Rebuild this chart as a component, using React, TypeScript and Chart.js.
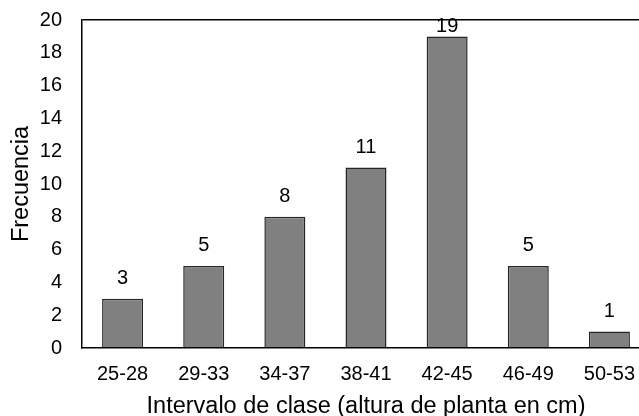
import React, { useEffect, useRef } from "react";
import { Chart, registerables } from "chart.js";

Chart.register(...registerables);

const categories = ["25-28", "29-33", "34-37", "38-41", "42-45", "46-49", "50-53"];
const frequencies = [3, 5, 8, 11, 19, 5, 1];
const yTitle = "Frecuencia";
const xTitle = "Intervalo de clase (altura de planta en cm)";

const FONT = "'Liberation Sans', Arial, sans-serif";

const valueLabels = {
  id: "valueLabels",
  afterDatasetsDraw(chart: any) {
    const ctx = chart.ctx;
    const meta = chart.getDatasetMeta(0);
    const top = chart.chartArea.top;
    ctx.save();
    ctx.font = `20px ${FONT}`;
    ctx.fillStyle = "#000";
    ctx.textAlign = "center";
    ctx.textBaseline = "alphabetic";
    meta.data.forEach((bar: any, i: number) => {
      const v = chart.data.datasets[0].data[i];
      const y = Math.max(bar.y - 15, top + 12);
      ctx.fillText(String(v), bar.x, y);
    });
    ctx.restore();
  },
};

export default function App() {
  const ref = useRef<HTMLCanvasElement>(null);
  useEffect(() => {
    if (!ref.current) return;
    const chart = new Chart(ref.current, {
      type: "bar",
      data: {
        labels: categories,
        datasets: [
          {
            data: frequencies,
            backgroundColor: "#808080",
            borderColor: "#262626",
            borderWidth: 1.5,
            barPercentage: 0.505,
            categoryPercentage: 1,
          },
        ],
      },
      options: {
        responsive: false,
        animation: false,
        layout: { padding: { top: 20, right: 10, left: 0, bottom: 0 } },
        plugins: { legend: { display: false }, tooltip: { enabled: false } },
        scales: {
          x: {
            grid: { display: false, drawTicks: false },
            border: { display: true, color: "#000", width: 1.5 },
            ticks: { font: { family: FONT, size: 20 }, color: "#000", padding: 14, maxRotation: 0 },
            title: {
              display: true,
              text: xTitle,
              font: { family: FONT, size: 23.5 },
              color: "#000",
              padding: { top: 0, bottom: 3 },
            },
            afterFit: (s: any) => {
              s.height = 76;
            },
          },
          y: {
            min: 0,
            max: 20,
            grid: {
              drawTicks: false,
              lineWidth: 1.5,
              color: (c: any) => (c.tick && c.tick.value === 20 ? "#000" : "rgba(0,0,0,0)"),
            },
            border: { display: true, color: "#000", width: 1.5 },
            ticks: { stepSize: 2, font: { family: FONT, size: 20 }, color: "#000", padding: 20 },
            title: {
              display: true,
              text: yTitle,
              font: { family: FONT, size: 23.5 },
              color: "#000",
              padding: { top: 7.7, bottom: 0 },
            },
            afterFit: (s: any) => {
              s.width = 82;
              s.paddingTop = 0;
              s.paddingBottom = 0;
            },
          },
        },
      },
      plugins: [valueLabels],
    });
    return () => chart.destroy();
  }, []);

  return (
    <div
      style={{
        position: "fixed",
        left: 0,
        top: 0,
        width: 639,
        height: 416,
        overflow: "hidden",
        background: "#fff",
      }}
    >
      <canvas ref={ref} width={660} height={424} style={{ display: "block" }} />
    </div>
  );
}
